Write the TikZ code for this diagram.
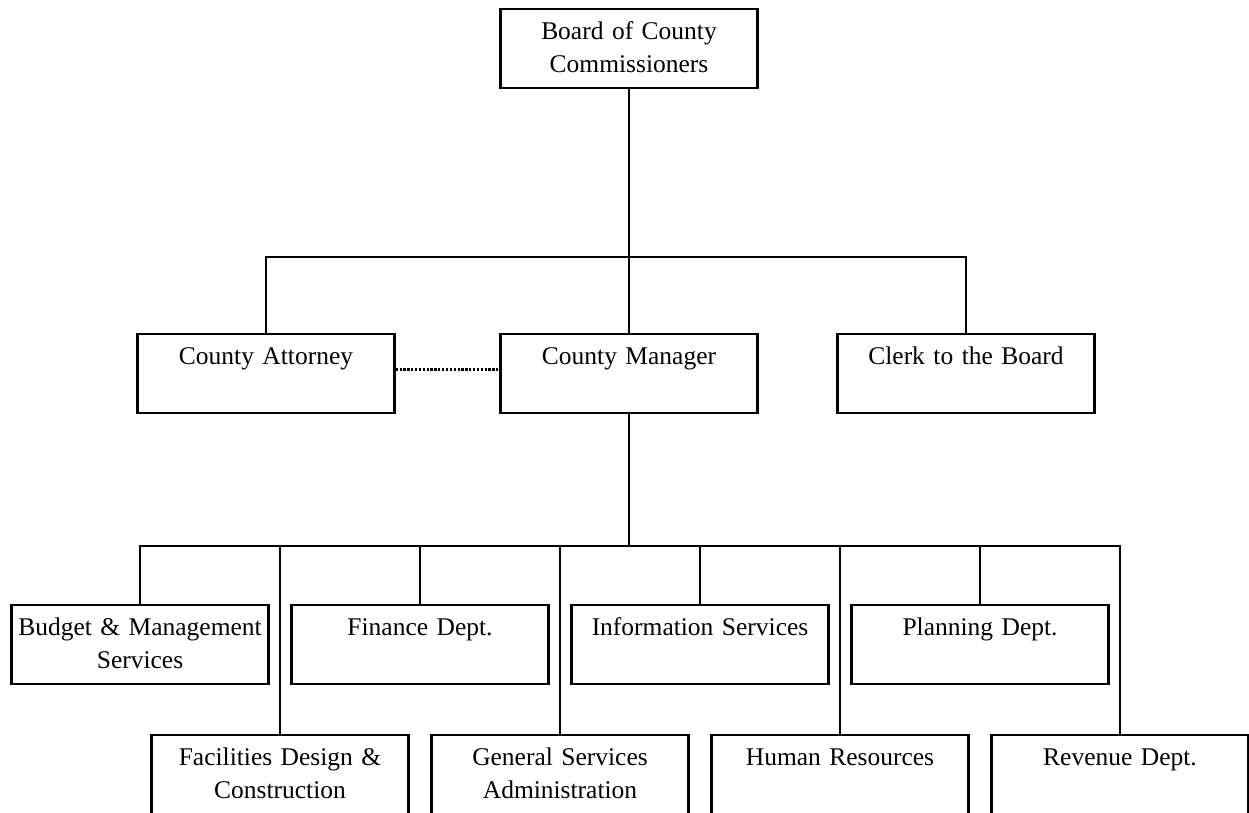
\documentclass[tikz,border=0pt]{standalone}
\usepackage{fontspec}
\setmainfont{Liberation Serif}

\begin{document}
\begin{tikzpicture}[
        unit/.style = {draw=black, line width=1.3pt, rectangle,
            inner sep=0pt, text width=5.14cm, align=center,
            text height=0.61cm, text depth=0.97cm,
            font=\fontsize{14.5}{18.8}\selectfont},
        link/.style = {line width=1.3pt},
        advice/.style = {line width=1.3pt, dash pattern=on 1.3pt off 0.9pt}]
        \clip (0,0) rectangle (24.98,-16.26);
        % NODES
        % board
        \node[unit] (Board) at (12.58,-0.97) {Board of County\\Commissioners};
        % second level
        \node[unit, below of = Board, node distance = 6.5cm] (Manager) {County Manager};
        \node[unit, left of = Manager, node distance = 7.26cm] (Attorney) {County Attorney};
        \node[unit, right of = Manager, node distance = 6.74cm] (Clerk) {Clerk to the Board};
        % departments, upper row
        \node[unit] (Budget) at (2.8,-12.89) {Budget \& Management\\Services};
        \node[unit, right of = Budget, node distance = 5.6cm] (Finance) {Finance Dept.};
        \node[unit, right of = Finance, node distance = 5.6cm] (Info) {Information Services};
        \node[unit, right of = Info, node distance = 5.6cm] (Planning) {Planning Dept.};
        % departments, lower row
        \node[unit] (Facilities) at (5.6,-15.49) {Facilities Design \&\\Construction};
        \node[unit, right of = Facilities, node distance = 5.6cm] (General) {General Services\\Administration};
        \node[unit, right of = General, node distance = 5.6cm] (Human) {Human Resources};
        \node[unit, right of = Human, node distance = 5.6cm] (Revenue) {Revenue Dept.};
        % bus points
        \coordinate (busA) at (12.58,-5.14);
        \coordinate (busB) at (12.58,-10.92);

        % LINES
        \draw[link] (Board.south) -- (busA);
        \draw[link] (busA) -- (Manager.north);
        \draw[link] (Attorney.north) |- (busA) -| (Clerk.north);
        \draw[advice] ([yshift=0.08cm]Attorney.east) -- ([yshift=0.08cm]Manager.west);
        \draw[link] (Manager.south) -- (busB);
        \draw[link] (Budget.north) |- (busB) -| (Revenue.north);
        \draw[link] (Finance.north) -- (Finance.north |- busB);
        \draw[link] (Info.north) -- (Info.north |- busB);
        \draw[link] (Planning.north) -- (Planning.north |- busB);
        \draw[link] (Facilities.north) -- (Facilities.north |- busB);
        \draw[link] (General.north) -- (General.north |- busB);
        \draw[link] (Human.north) -- (Human.north |- busB);
    \end{tikzpicture}
\end{document}
